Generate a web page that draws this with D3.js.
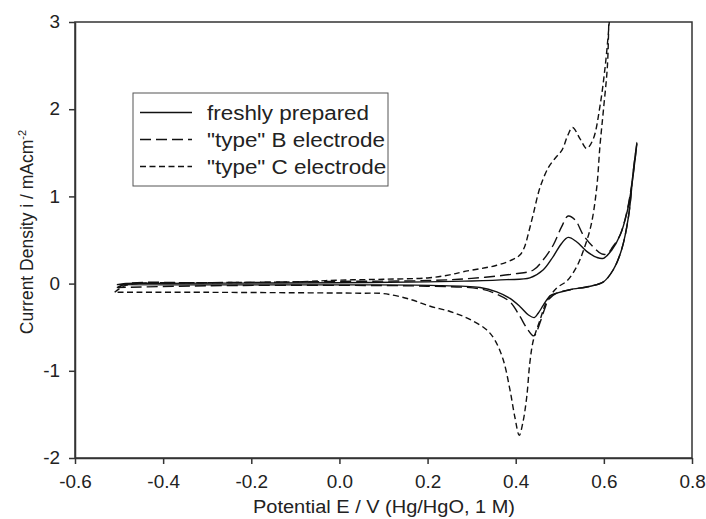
<!DOCTYPE html>
<html lang="en">
<head>
<meta charset="UTF-8">
<title>Cyclic voltammograms</title>
<script src="https://cdn.jsdelivr.net/npm/d3@7"></script>
<style>
  body { margin: 0; background: #fff; }
  text { font-family: "Liberation Sans", Arial, sans-serif; fill: #222; }
  .axis path, .axis line { stroke: #333; stroke-width: 1.5; }
  .curve { fill: none; stroke: #111; stroke-width: 1.4; }
</style>
</head>
<body>
<svg id="chart" width="706" height="519"></svg>
<script>
// data: [potential E (V), current density i (mA cm-2)]
const fresh = [
  [-0.505, -0.012], [-0.49, 0.0], [-0.4, 0.003], [-0.2, 0.006], [0.0, 0.01], [0.2, 0.02],
  [0.3, 0.03], [0.38, 0.045], [0.432, 0.065], [0.462, 0.156], [0.485, 0.31], [0.504, 0.46],
  [0.519, 0.53], [0.538, 0.48], [0.561, 0.37], [0.584, 0.3], [0.599, 0.29], [0.618, 0.385],
  [0.637, 0.557], [0.652, 0.806], [0.663, 1.11], [0.675, 1.62],
  [0.667, 1.3], [0.656, 0.77], [0.64, 0.385], [0.621, 0.156], [0.599, 0.02], [0.569, -0.03],
  [0.523, -0.07], [0.493, -0.11], [0.478, -0.14], [0.463, -0.245], [0.451, -0.34], [0.442, -0.39],
  [0.429, -0.36], [0.41, -0.265], [0.387, -0.17], [0.357, -0.095], [0.319, -0.045], [0.206, -0.02],
  [0.0, -0.015], [-0.3, -0.015], [-0.505, -0.012]
]
const typeB = [
  [-0.505, -0.045], [-0.48, 0.0], [-0.3, 0.01], [0.0, 0.025], [0.2, 0.035], [0.3, 0.06],
  [0.395, 0.11], [0.44, 0.156], [0.462, 0.27], [0.485, 0.44], [0.504, 0.65], [0.519, 0.775],
  [0.535, 0.73], [0.553, 0.56], [0.576, 0.42], [0.595, 0.34], [0.607, 0.34], [0.62, 0.42],
  [0.637, 0.56], [0.652, 0.82], [0.663, 1.13], [0.675, 1.6],
  [0.667, 1.3], [0.656, 0.77], [0.64, 0.385], [0.621, 0.156], [0.599, 0.02], [0.569, -0.03],
  [0.523, -0.07], [0.493, -0.11], [0.475, -0.18], [0.465, -0.3], [0.455, -0.45], [0.445, -0.58],
  [0.44, -0.6], [0.425, -0.51], [0.41, -0.38], [0.387, -0.21], [0.357, -0.12], [0.319, -0.06],
  [0.2, -0.03], [0.0, -0.02], [-0.3, -0.025], [-0.505, -0.045]
]
const typeC = [
  [-0.51, -0.1], [-0.49, -0.03], [-0.46, 0.0], [-0.3, 0.01], [-0.1, 0.02], [0.0, 0.04],
  [0.1, 0.05], [0.2, 0.065], [0.25, 0.1], [0.281, 0.136], [0.357, 0.21], [0.395, 0.28],
  [0.41, 0.33], [0.42, 0.42], [0.43, 0.6], [0.44, 0.8], [0.455, 1.1], [0.474, 1.33],
  [0.49, 1.44], [0.505, 1.53], [0.518, 1.7], [0.529, 1.79], [0.546, 1.66], [0.561, 1.55],
  [0.576, 1.66], [0.591, 2.03], [0.603, 2.49], [0.612, 2.98], [0.618, 3.4],
  [0.614, 3.3], [0.608, 2.49], [0.599, 1.99], [0.591, 1.57], [0.584, 1.11], [0.571, 0.67],
  [0.553, 0.37], [0.538, 0.19], [0.516, 0.03], [0.493, -0.05], [0.47, -0.21], [0.455, -0.42],
  [0.44, -0.65], [0.432, -0.91], [0.425, -1.3], [0.416, -1.6], [0.408, -1.74], [0.398, -1.53],
  [0.387, -1.22], [0.372, -0.88], [0.353, -0.65], [0.334, -0.53], [0.296, -0.41], [0.251, -0.32],
  [0.206, -0.26], [0.16, -0.18], [0.1, -0.115], [0.047, -0.11], [-0.1, -0.105], [-0.3, -0.1],
  [-0.51, -0.1]
]
const seriesNames = ['freshly prepared', '"type" B electrode', '"type" C electrode']
const xTicks = [-0.6, -0.4, -0.2, 0, 0.2, 0.4, 0.6, 0.8]
const yTicks = [-2, -1, 0, 1, 2, 3]

const dashes = [null, '11,5', '6,3.5']

const svg = d3.select('#chart')
const margin = { top: 22, right: 14, bottom: 61, left: 75 }
const W = 706 - margin.left - margin.right
const H = 519 - margin.top - margin.bottom

const chart = svg.append('g').attr('transform', `translate(${margin.left},${margin.top})`)

const x = d3.scaleLinear().domain([-0.6, 0.8]).range([0, W])
const y = d3.scaleLinear().domain([-2, 3]).range([H, 0])

// stretch text a little wider, the original glyphs are broader than Arial
function widen(sel, k) {
  sel.each(function () {
    const w = this.getComputedTextLength()
    d3.select(this).attr('textLength', w * k).attr('lengthAdjust', 'spacingAndGlyphs')
  })
}

// frame
chart.append('rect')
  .attr('width', W).attr('height', H)
  .attr('fill', 'none').attr('stroke', '#333').attr('stroke-width', 1.5)

// axes
const xAxis = chart.append('g').attr('class', 'axis')
  .attr('transform', `translate(0,${H})`)
  .call(d3.axisBottom(x).tickValues(xTicks).tickSize(6).tickSizeOuter(0).tickPadding(12)
    .tickFormat(d => d.toFixed(1)))
const yAxis = chart.append('g').attr('class', 'axis')
  .call(d3.axisLeft(y).tickValues(yTicks).tickSize(6).tickSizeOuter(0).tickPadding(9)
    .tickFormat(d => String(d)))

svg.selectAll('.axis text')
  .attr('font-family', null)
  .style('font-size', '17.5px')
  .attr('fill', '#222')
widen(svg.selectAll('.axis text'), 1.08)

// curves
chart.append('clipPath').attr('id', 'plot-clip')
  .append('rect').attr('width', W).attr('height', H)

const line = d3.line()
  .x(d => x(d[0]))
  .y(d => y(d[1]))
  .curve(d3.curveCatmullRom.alpha(0.5))

const series = [fresh, typeB, typeC]
chart.append('g').attr('clip-path', 'url(#plot-clip)')
  .selectAll('path')
  .data(series)
  .enter()
  .append('path')
    .attr('class', 'curve')
    .attr('d', line)
    .attr('stroke-dasharray', (_, i) => dashes[i])

// axis titles
const xLabel = svg.append('text')
  .attr('x', 384).attr('y', 513)
  .attr('text-anchor', 'middle')
  .style('font-size', '18px')
  .text('Potential E / V (Hg/HgO, 1 M)')
widen(xLabel, 1.11)

const yLabel = svg.append('text')
  .attr('transform', 'translate(33,232) rotate(-90)')
  .attr('text-anchor', 'middle')
  .style('font-size', '17.5px')
yLabel.append('tspan').text('Current Density i / mAcm')
yLabel.append('tspan').attr('dy', -7).style('font-size', '11px').text('-2')

// legend
const legend = svg.append('g').attr('transform', 'translate(133,93)')
legend.append('rect')
  .attr('width', 255).attr('height', 93)
  .attr('fill', '#fff').attr('stroke', '#555').attr('stroke-width', 1)

const rows = legend.selectAll('g.row')
  .data(seriesNames)
  .enter()
  .append('g')
    .attr('class', 'row')
    .attr('transform', (_, i) => `translate(0,${19.5 + i * 27})`)

rows.append('line')
  .attr('x1', 7).attr('x2', 59)
  .attr('stroke', '#111').attr('stroke-width', 1.4)
  .attr('stroke-dasharray', (_, i) => dashes[i])

const legendText = rows.append('text')
  .attr('x', 74).attr('y', 7.5)
  .style('font-size', '19.5px')
  .text(d => d)
widen(legendText, 1.15)
</script>
</body>
</html>
